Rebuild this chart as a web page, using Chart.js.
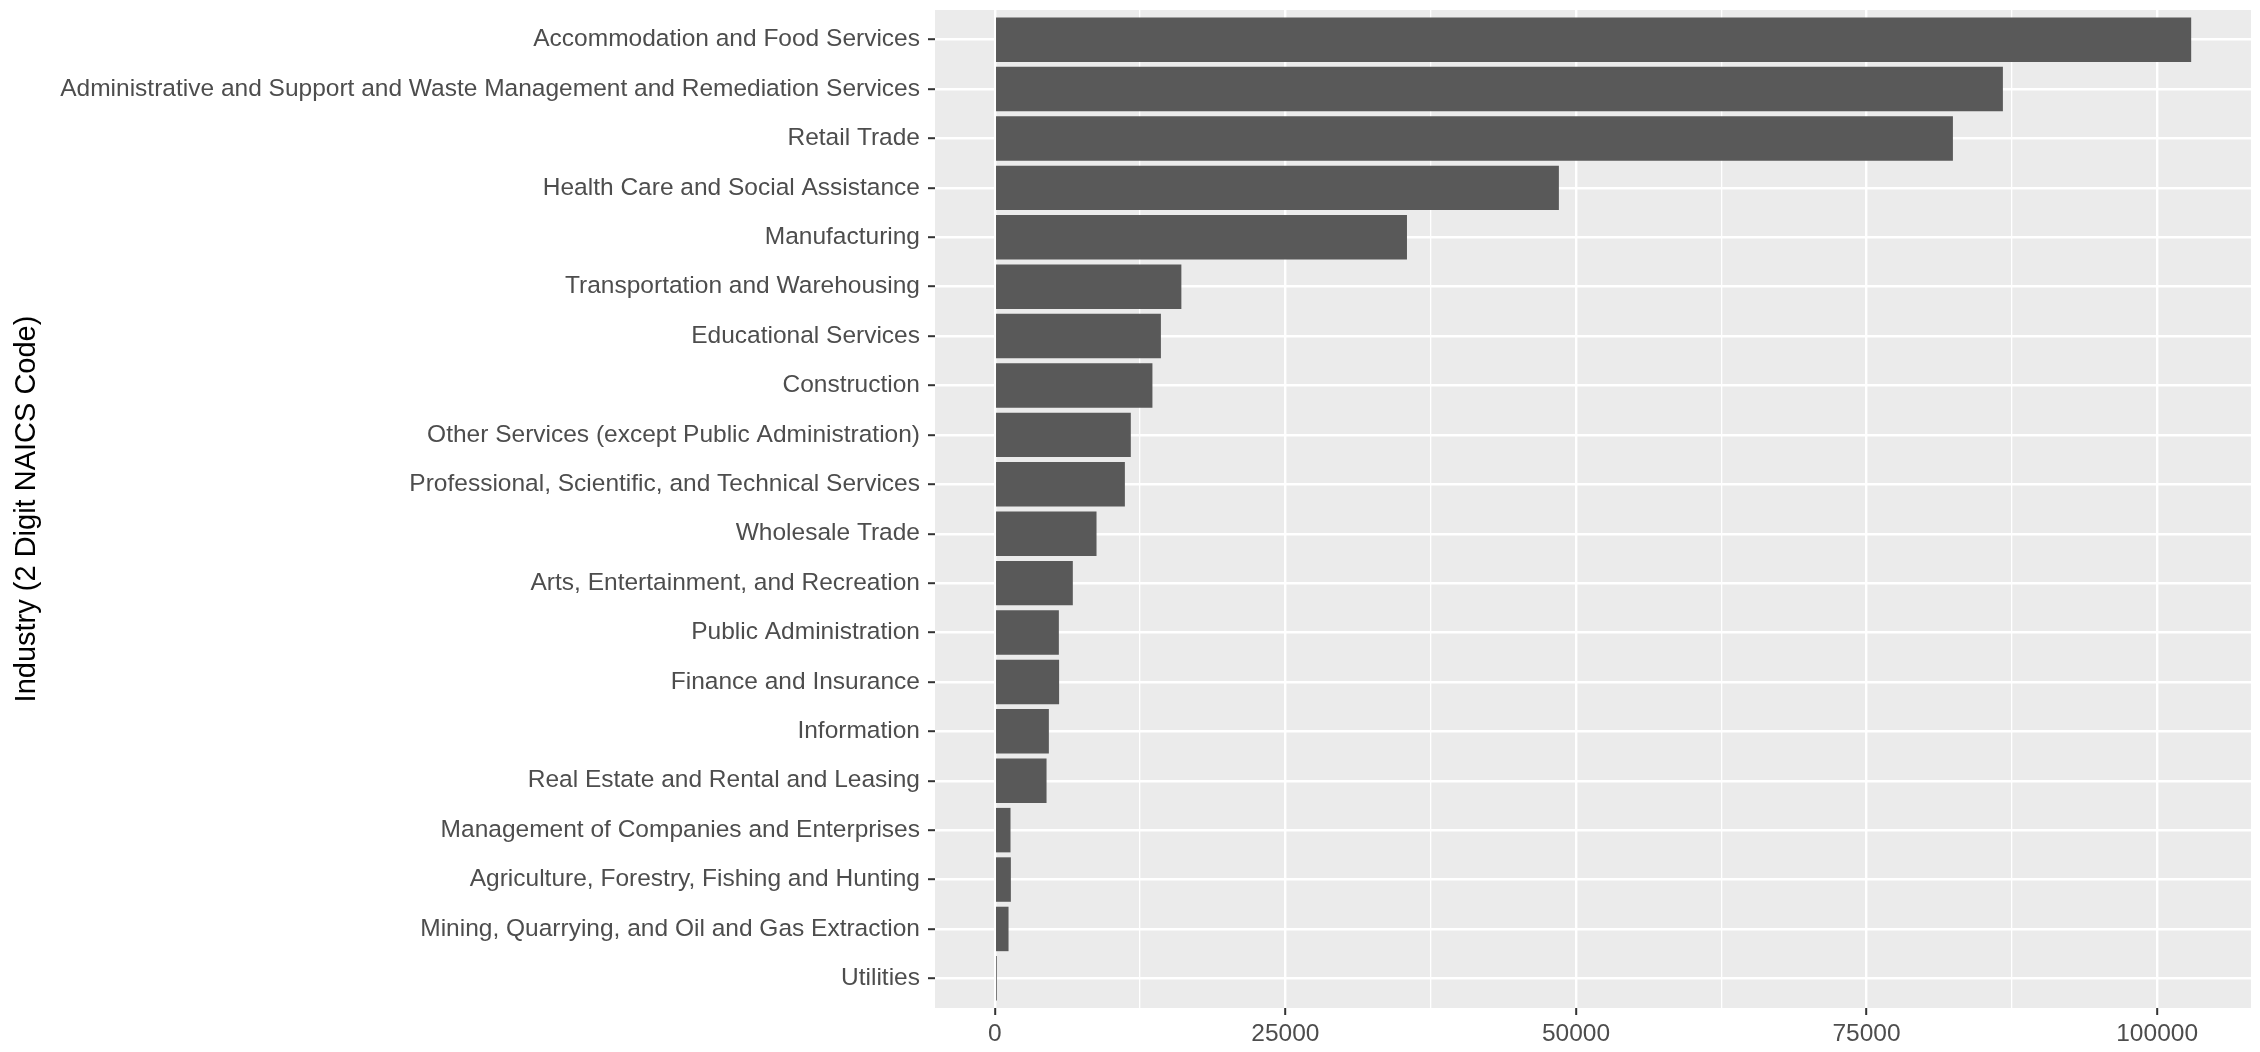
<!DOCTYPE html>
<html>
<head>
<meta charset="utf-8">
<script src="https://cdn.jsdelivr.net/npm/chart.js@4.4.1/dist/chart.umd.min.js"></script>
<style>
  html, body { margin: 0; padding: 0; background: #ffffff; }
  #wrap { width: 2260px; height: 1052px; }
</style>
</head>
<body>
<div id="wrap"><canvas id="c" width="2260" height="1052"></canvas></div>
<script>
const categories = [
  "Accommodation and Food Services",
  "Administrative and Support and Waste Management and Remediation Services",
  "Retail Trade",
  "Health Care and Social Assistance",
  "Manufacturing",
  "Transportation and Warehousing",
  "Educational Services",
  "Construction",
  "Other Services (except Public Administration)",
  "Professional, Scientific, and Technical Services",
  "Wholesale Trade",
  "Arts, Entertainment, and Recreation",
  "Public Administration",
  "Finance and Insurance",
  "Information",
  "Real Estate and Rental and Leasing",
  "Management of Companies and Enterprises",
  "Agriculture, Forestry, Fishing and Hunting",
  "Mining, Quarrying, and Oil and Gas Extraction",
  "Utilities"
];
const values = [
  102930, 86730, 82430, 48530, 35460, 16050, 14290, 13560, 11700, 11190,
  8750, 6710, 5510, 5530, 4650, 4450, 1350, 1380, 1180, 170
];
const majorTicks = [0, 25000, 50000, 75000, 100000];
const minorTicks = [12500, 37500, 62500, 87500];
const yTitle = "Industry (2 Digit NAICS Code)";

const FONT = "'Liberation Sans', Arial, sans-serif";
const vmax = Math.max(...values);
const xMin = -0.05 * vmax, xMax = 1.05 * vmax;

const panelBg = {
  id: 'panelBg',
  beforeDraw(chart) {
    const a = chart.chartArea, ctx = chart.ctx;
    ctx.save();
    ctx.fillStyle = '#EBEBEB';
    ctx.fillRect(a.left, a.top, a.right - a.left, a.bottom - a.top);
    ctx.restore();
  }
};

const isMajor = v => majorTicks.includes(v);

new Chart(document.getElementById('c'), {
  type: 'bar',
  data: {
    datasets: [{
      data: values.map((v, i) => ({ x: v, y: i })),
      backgroundColor: '#595959',
      borderWidth: 0,
      barPercentage: 0.9,
      categoryPercentage: 1.0
    }]
  },
  plugins: [panelBg],
  options: {
    indexAxis: 'y',
    responsive: false,
    devicePixelRatio: 1,
    animation: false,
    layout: { padding: { top: 10, right: 9, bottom: 0, left: 0 } },
    plugins: { legend: { display: false }, tooltip: { enabled: false } },
    scales: {
      x: {
        type: 'linear',
        position: 'bottom',
        min: xMin,
        max: xMax,
        offset: false,
        afterBuildTicks(scale) {
          scale.ticks = majorTicks.concat(minorTicks).sort((a, b) => a - b).map(v => ({ value: v }));
        },
        afterFit(scale) {
          scale.height = 44;
          scale.paddingLeft = 0; scale.paddingRight = 0;
        },
        border: { display: false },
        grid: {
          offset: false,
          color: '#FFFFFF',
          lineWidth: ctx => (ctx.tick && isMajor(ctx.tick.value)) ? 2.4 : 1.3,
          drawTicks: true,
          tickLength: 7,
          tickWidth: 2,
          tickColor: ctx => (ctx.tick && isMajor(ctx.tick.value)) ? '#333333' : 'rgba(0,0,0,0)'
        },
        ticks: {
          autoSkip: false,
          maxRotation: 0,
          padding: 5,
          color: '#4D4D4D',
          font: { family: FONT, size: 24.5 },
          callback: v => isMajor(v) ? String(v) : ''
        }
      },
      y: {
        type: 'linear',
        reverse: true,
        min: -0.6,
        max: categories.length - 1 + 0.6,
        offset: false,
        afterBuildTicks(scale) {
          scale.ticks = categories.map((c, i) => ({ value: i }));
        },
        afterFit(scale) {
          scale.width = 935;
          scale.paddingTop = 0; scale.paddingBottom = 0;
        },
        border: { display: false },
        grid: {
          offset: false,
          color: '#FFFFFF',
          lineWidth: 2.4,
          drawTicks: true,
          tickLength: 7,
          tickWidth: 2,
          tickColor: '#333333'
        },
        ticks: {
          autoSkip: false,
          padding: 8,
          color: '#4D4D4D',
          font: { family: FONT, size: 24.5 },
          callback: v => categories[v]
        },
        title: {
          display: true,
          text: yTitle,
          color: '#000000',
          font: { family: FONT, size: 29 },
          padding: { top: 10, bottom: 0 }
        }
      }
    }
  }
});
</script>
</body>
</html>
